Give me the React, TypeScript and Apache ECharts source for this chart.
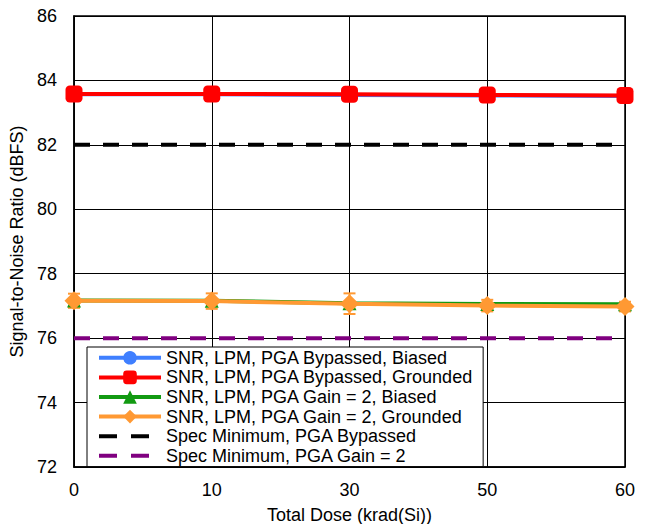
import React, { useEffect, useRef } from "react";
import * as echarts from "echarts";

const categories = ["0", "10", "30", "50", "60"];
const bypassedBiased = [83.57, 83.57, 83.55, 83.53, 83.52];
const bypassedGrounded = [83.58, 83.58, 83.57, 83.55, 83.53];
const gain2Biased = [77.17, 77.16, 77.08, 77.06, 77.05];
const gain2Grounded = [77.16, 77.15, 77.07, 77.01, 76.98];
const gain2GroundedErr = [0.22, 0.24, 0.32, 0.18, 0.15];
const specBypassed = [82, 82, 82, 82, 82];
const specGain2 = [76, 76, 76, 76, 76];
const seriesNames = [
  "SNR, LPM, PGA Bypassed, Biased",
  "SNR, LPM, PGA Bypassed, Grounded",
  "SNR, LPM, PGA Gain = 2, Biased",
  "SNR, LPM, PGA Gain = 2, Grounded",
  "Spec Minimum, PGA Bypassed",
  "Spec Minimum, PGA Gain = 2",
];

const FONT = "Liberation Sans, Arial, sans-serif";

export default function App() {
  const ref = useRef<HTMLDivElement>(null);
  useEffect(() => {
    if (!ref.current) return;
    const chart = echarts.init(ref.current, null, { renderer: "svg" });
    const errData = gain2Grounded.map((v, i) => [i, v - gain2GroundedErr[i], v + gain2GroundedErr[i]]);
    const dataLine = (name: string, data: number[], color: string, symbol: string, size: number) => ({
      name,
      type: "line",
      data,
      symbol,
      symbolSize: size,
      showSymbol: true,
      clip: false,
      lineStyle: { color, width: 4 },
      itemStyle: { color },
    });
    const legendData = seriesNames.map((name, i) =>
      i >= 4 ? { name, lineStyle: { type: [18, 14], width: 4 } } : { name }
    );
    chart.setOption({
      animation: false,
      textStyle: { fontFamily: FONT },
      grid: {
        left: 74,
        right: 27,
        top: 16,
        bottom: 65,
        show: true,
        borderColor: "#000",
        borderWidth: 1.5,
      },
      xAxis: {
        type: "category",
        data: categories,
        boundaryGap: false,
        name: "Total Dose (krad(Si))",
        nameLocation: "middle",
        nameGap: 39,
        nameTextStyle: { fontSize: 18, color: "#000", fontFamily: FONT },
        axisLine: { lineStyle: { color: "#000", width: 1.5 } },
        axisTick: { show: false },
        axisLabel: { fontSize: 18, color: "#000", margin: 14, fontFamily: FONT },
        splitLine: { show: true, lineStyle: { color: "#000", width: 1 } },
      },
      yAxis: {
        type: "value",
        min: 72,
        max: 86,
        interval: 2,
        name: "Signal-to-Noise Ratio (dBFS)",
        nameLocation: "middle",
        nameGap: 37,
        nameTextStyle: { fontSize: 18, color: "#000", fontFamily: FONT },
        axisLine: { show: true, lineStyle: { color: "#000", width: 1.5 } },
        axisTick: { show: false },
        axisLabel: { fontSize: 18, color: "#000", margin: 17, fontFamily: FONT },
        splitLine: { show: true, lineStyle: { color: "#000", width: 1 } },
      },
      legend: {
        data: legendData,
        orient: "vertical",
        left: 87,
        top: 347,
        itemWidth: 62,
        itemHeight: 17,
        itemGap: 0,
        padding: [1, 10, 1, 10],
        backgroundColor: "#fff",
        borderColor: "#000",
        borderWidth: 1,
        borderRadius: 0,
        lineStyle: { width: 4 },
        textStyle: { fontSize: 18, color: "#000", lineHeight: 19.6, fontFamily: FONT },
      },
      series: [
        dataLine(seriesNames[0], bypassedBiased, "#3f7fff", "circle", 14),
        dataLine(seriesNames[1], bypassedGrounded, "#ff0000", "roundRect", 17),
        dataLine(seriesNames[2], gain2Biased, "#129a12", "triangle", 14),
        {
          type: "custom",
          name: "err",
          data: errData,
          encode: { x: 0, y: [1, 2] },
          clip: false,
          z: 3,
          renderItem: (params: any, api: any) => {
            const i = api.value(0);
            const lo = api.coord([i, api.value(1)]);
            const hi = api.coord([i, api.value(2)]);
            const cap = 6;
            const style = { stroke: "#ff9933", lineWidth: 2 };
            return {
              type: "group",
              children: [
                { type: "line", shape: { x1: lo[0], y1: lo[1], x2: hi[0], y2: hi[1] }, style },
                { type: "line", shape: { x1: lo[0] - cap, y1: lo[1], x2: lo[0] + cap, y2: lo[1] }, style },
                { type: "line", shape: { x1: hi[0] - cap, y1: hi[1], x2: hi[0] + cap, y2: hi[1] }, style },
              ],
            };
          },
        },
        { ...dataLine(seriesNames[3], gain2Grounded, "#ff9933", "diamond", 19), z: 4 },
        {
          name: seriesNames[4],
          type: "line",
          data: specBypassed,
          symbol: "none",
          lineStyle: { color: "#000", width: 4, type: [16, 13] },
          itemStyle: { color: "#000", opacity: 0 },
        },
        {
          name: seriesNames[5],
          type: "line",
          data: specGain2,
          symbol: "none",
          lineStyle: { color: "#800080", width: 4, type: [16, 13] },
          itemStyle: { color: "#800080", opacity: 0 },
        },
      ],
    });
    return () => chart.dispose();
  }, []);
  return <div ref={ref} style={{ width: 652, height: 532, margin: -8 }} />;
}
